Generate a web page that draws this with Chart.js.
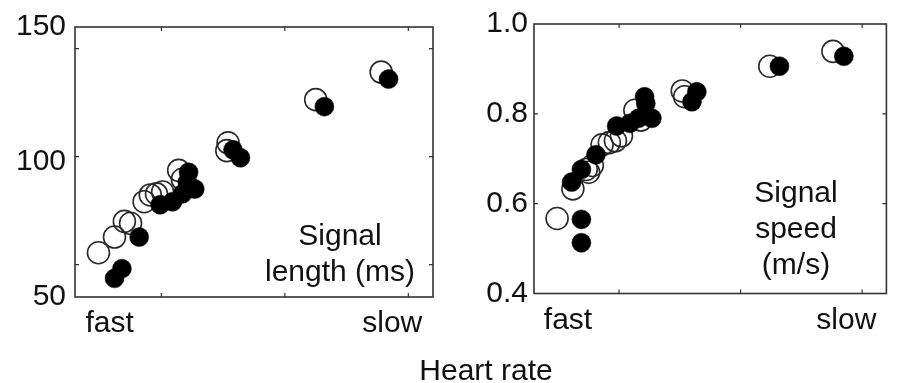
<!DOCTYPE html>
<html>
<head>
<meta charset="utf-8">
<script src="https://cdn.jsdelivr.net/npm/chart.js@4/dist/chart.umd.min.js"></script>
<style>
    body { margin: 0; background: #fff; }
    #wrap { position: relative; width: 899px; height: 383px; overflow: hidden; }
    #lengthChart { position: absolute; left: 0; top: 0; }
    #speedChart { position: absolute; left: 450px; top: 0; }
    #xTitle {
        position: absolute; left: 386px; top: 355px; width: 200px;
        text-align: center; font: 30px "Liberation Sans", Arial, sans-serif;
        line-height: 30px; color: #111;
    }
</style>
</head>
<body>
<div id="wrap">
    <canvas id="lengthChart" width="450" height="383"></canvas>
    <canvas id="speedChart" width="449" height="383"></canvas>
    <div id="xTitle">Heart rate</div>
</div>
<script>
// heart rate position on a 0..2 scale (fast -> slow)
var rateLabels = ['fast', 'slow'];
var ratePos = [-0.42, 1.87];

// signal length (ms), open = before, filled = after
var lenOpenX = [-0.51, -0.38, -0.30, -0.25, -0.14, -0.09, -0.04, 0.01, 0.14, 0.17, 0.54, 0.53, 1.25, 1.78];
var lenOpenY = [66.4, 72.2, 78.0, 77.3, 85.3, 87.8, 88.2, 88.9, 96.9, 93.6, 107.1, 104.2, 123.1, 133.3];
var lenFillX = [-0.38, -0.32, -0.18, -0.01, 0.09, 0.17, 0.22, 0.21, 0.27, 0.58, 0.64, 1.32, 1.84];
var lenFillY = [56.9, 60.5, 72.2, 84.2, 85.3, 88.2, 96.2, 92.5, 90.0, 104.5, 101.6, 120.5, 130.7];

// signal speed (m/s)
var spdOpenX = [-0.51, -0.38, -0.27, -0.25, -0.22, -0.14, -0.08, -0.03, 0.02, 0.13, 0.18, 0.52, 0.54, 1.24, 1.76];
var spdOpenY = [0.567, 0.633, 0.676, 0.670, 0.685, 0.731, 0.736, 0.740, 0.751, 0.808, 0.786, 0.851, 0.838, 0.906, 0.939];
var spdFillX = [-0.31, -0.31, -0.39, -0.31, -0.19, -0.02, 0.09, 0.16, 0.21, 0.22, 0.27, 0.60, 0.64, 1.32, 1.85];
var spdFillY = [0.565, 0.513, 0.648, 0.676, 0.709, 0.773, 0.779, 0.790, 0.838, 0.823, 0.790, 0.827, 0.849, 0.906, 0.928];

var lenTicks = [50, 100, 150];
var lenMarks = [62, 102, 142];
var spdTicks = [0.4, 0.6, 0.8, 1.0];
var spdMarks = [0.6, 0.8];
var rateMarks = [0, 1, 2];

var FONT = '"Liberation Sans", Arial, sans-serif';

function toPoints(xs, ys) {
    var pts = [];
    for (var i = 0; i < xs.length; i++) {
        pts.push({ x: xs[i], y: ys[i] });
    }
    return pts;
}

// box around the plot with small inward tick marks
var framePlugin = {
    id: 'frame',
    beforeDatasetsDraw: function (chart, args, opts) {
        var ctx = chart.ctx, a = chart.chartArea;
        var sx = chart.scales.x, sy = chart.scales.y;
        ctx.save();
        ctx.strokeStyle = '#333';
        ctx.lineWidth = 1.6;
        ctx.strokeRect(a.left, a.top, a.right - a.left, a.bottom - a.top);
        ctx.lineWidth = 1.2;
        ctx.beginPath();
        opts.xMarks.forEach(function (v) {
            var px = sx.getPixelForValue(v);
            ctx.moveTo(px, a.top); ctx.lineTo(px, a.top + 4);
            ctx.moveTo(px, a.bottom); ctx.lineTo(px, a.bottom - 4);
        });
        opts.yMarks.forEach(function (v) {
            var py = sy.getPixelForValue(v);
            ctx.moveTo(a.left, py); ctx.lineTo(a.left + 4, py);
            ctx.moveTo(a.right, py); ctx.lineTo(a.right - 4, py);
        });
        ctx.stroke();
        ctx.restore();
    },
    afterDraw: function (chart, args, opts) {
        var ctx = chart.ctx;
        ctx.save();
        ctx.fillStyle = '#111';
        ctx.font = '30px ' + FONT;
        ctx.textAlign = 'center';
        ctx.textBaseline = 'alphabetic';
        opts.text.forEach(function (line, i) {
            ctx.fillText(line, opts.textX, opts.textY + i * opts.lineGap);
        });
        ctx.restore();
    }
};

function MakePanel(id, open, filled, yOpts, frameOpts, axisWidth, padding) {
    var ctx = document.getElementById(id).getContext('2d');
    return new Chart(ctx, {
        type: 'scatter',
        data: {
            datasets: [{
                data: filled,
                pointRadius: 9.5,
                pointBackgroundColor: '#000',
                pointBorderColor: '#000',
                pointBorderWidth: 0.5
            }, {
                data: open,
                pointRadius: 11,
                pointBackgroundColor: 'rgba(255,255,255,0)',
                pointBorderColor: '#2a2a2a',
                pointBorderWidth: 1.6
            }]
        },
        options: {
            responsive: false,
            animation: false,
            layout: { padding: padding },
            plugins: {
                legend: { display: false },
                tooltip: { enabled: false },
                frame: frameOpts
            },
            scales: {
                x: {
                    type: 'linear',
                    min: -0.7,
                    max: 2.2,
                    grid: { display: false, drawTicks: false },
                    border: { display: false },
                    afterBuildTicks: function (scale) {
                        scale.ticks = ratePos.map(function (v) { return { value: v }; });
                    },
                    afterFit: function (scale) { scale.height = 50; },
                    ticks: {
                        autoSkip: false,
                        maxRotation: 0,
                        padding: 9,
                        color: '#111',
                        font: { family: FONT, size: 30 },
                        callback: function (v, i) { return rateLabels[i]; }
                    }
                },
                y: {
                    type: 'linear',
                    min: yOpts.min,
                    max: yOpts.max,
                    grid: { display: false, drawTicks: false },
                    border: { display: false },
                    afterBuildTicks: function (scale) {
                        scale.ticks = yOpts.ticks.map(function (v) { return { value: v }; });
                    },
                    afterFit: function (scale) { scale.width = axisWidth; },
                    ticks: {
                        padding: yOpts.pad,
                        color: '#111',
                        font: { family: FONT, size: 30 },
                        callback: yOpts.format
                    }
                }
            }
        },
        plugins: [framePlugin]
    });
}

MakePanel('lengthChart',
    toPoints(lenOpenX, lenOpenY),
    toPoints(lenFillX, lenFillY),
    { min: 50, max: 150, ticks: lenTicks, pad: 9, format: function (v) { return String(v); } },
    { xMarks: rateMarks, yMarks: lenMarks, text: ['Signal', 'length (ms)'], textX: 340, textY: 245, lineGap: 36 },
    75,
    { left: 0, right: 17, top: 22, bottom: 36 });

MakePanel('speedChart',
    toPoints(spdOpenX, spdOpenY),
    toPoints(spdFillX, spdFillY),
    { min: 0.4, max: 1.0, ticks: spdTicks, pad: 6, format: function (v) { return v.toFixed(1); } },
    { xMarks: rateMarks, yMarks: spdMarks, text: ['Signal', 'speed', '(m/s)'], textX: 346, textY: 202, lineGap: 36 },
    84,
    { left: 0, right: 7, top: 19.5, bottom: 39.5 });
</script>
</body>
</html>
